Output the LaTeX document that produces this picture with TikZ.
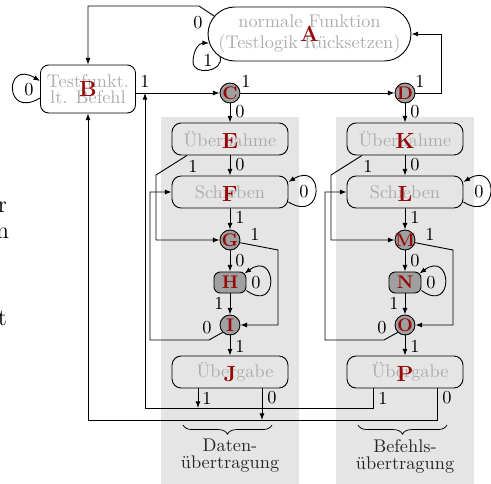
\documentclass[tikz,border=0pt]{standalone}
\usepackage{fontspec}
\usetikzlibrary{arrows.meta,decorations.pathreplacing}
\definecolor{statetext}{RGB}{172,172,172}
\definecolor{letter}{RGB}{150,8,8}
\definecolor{panel}{RGB}{229,229,229}
\definecolor{knot}{RGB}{160,160,160}

\begin{document}
\begin{tikzpicture}[x=0.546pt,y=-0.546pt,
  line width=0.5pt,
  >={Latex[length=3.6pt,width=2.7pt]},
  state/.style={draw, rounded corners=5pt, minimum width=63.3pt, minimum height=17.5pt,
    inner sep=0pt, text=statetext, font=\fontsize{10}{11}\selectfont},
  bigletter/.style={text=letter, font=\large\bfseries, inner sep=0pt},
  smallletter/.style={text=letter, font=\normalsize\bfseries, inner sep=0pt},
  junction/.style={draw, circle, fill=knot, minimum size=10.9pt, inner sep=0pt},
  pausebox/.style={draw, fill=knot, rounded corners=3.5pt, minimum width=17.5pt,
    minimum height=11.5pt, inner sep=0pt},
  bit/.style={font=\fontsize{10}{11}\selectfont, inner sep=0pt},
  groupbrace/.style={decorate, decoration={brace, mirror, amplitude=5pt}, line width=0.4pt},
  grouptext/.style={align=center, font=\fontsize{10}{9.3}\selectfont, text=black!85},
  fragment/.style={anchor=base east, inner sep=0pt, font=\fontsize{13}{15}\selectfont},
  ]
\useasboundingbox (0,0) rectangle (491,484);

% grey backgrounds of the two scan paths
\fill[panel] (161,117) rectangle (299,484);
\fill[panel] (336,117) rectangle (474,484);

% reset and idle states
\node[state, minimum width=110.8pt, minimum height=29.5pt, rounded corners=14.7pt,
  align=center, font=\fontsize{10}{11.5}\selectfont,
  label={[bigletter]center:A}] (A) at (309.5,34) {normale Funktion\\(Testlogik Rücksetzen)};
\node[state, minimum width=51.9pt, minimum height=26.2pt, rounded corners=4.5pt,
  align=center, font=\fontsize{10}{8.5}\selectfont,
  label={[bigletter]center:B}] (B) at (88,89) {Testfunkt.\\lt. Befehl};

% the two scan paths (data and instruction)
\foreach \dx/\s/\ca/\sh/\xa/\pa/\xb/\up in {0/C/E/F/G/H/I/J, 175/D/K/L/M/N/O/P} {
  \begin{scope}[shift={(\dx,0)}]
    \node[junction, label={[smallletter]center:\s}] (\s) at (230,93) {};
    \node[state, label={[bigletter,yshift=-1pt]center:\ca}] (\ca) at (230,139) {Übernahme};
    \node[state, label={[bigletter,yshift=-1pt]center:\sh}] (\sh) at (230,192) {Schieben};
    \node[junction, label={[smallletter]center:\xa}] (\xa) at (230,240) {};
    \node[pausebox, label={[smallletter]center:\pa}] (\pa) at (230,282.5) {};
    \node[junction, label={[smallletter]center:\xb}] (\xb) at (230,325) {};
    \node[state, label={[bigletter,yshift=-1pt]center:\up}] (\up) at (230,372) {\hspace*{5.5pt}Übergabe};

    \draw[->] (\s) -- (\ca);
    \node[bit] (\s-b0) at (240,112) {0};

    \draw[->] (\ca) -- (\sh);
    \node[bit] (\ca-b0) at (240,165) {0};
    \draw[->] ([shift={(-43,0)}]\ca.south) -- (156,175) |- (\xa);
    \node[bit] (\ca-b1) at (193,166) {1};

    \draw[->] ([shift={(0,10)}]\sh.east)
      .. controls ([shift={(36,32)}]\sh.east) and ([shift={(36,-32)}]\sh.east)
      .. ([shift={(0,-10)}]\sh.east);
    \node[bit] (\sh-b0) at (304,192) {0};
    \draw[->] (\sh) -- (\xa);
    \node[bit] (\sh-b1) at (240,217) {1};

    \draw[->] (\xa) -- (\pa);
    \node[bit] (\xa-b0) at (240,261) {0};
    \draw[->] (\xa.-15) -- (278,250) |- (\xb);
    \node[bit] (\xa-b1) at (255,234) {1};

    \draw[->] ([shift={(0,8)}]\pa.east)
      .. controls ([shift={(33,32)}]\pa.east) and ([shift={(31,-33)}]\pa.east)
      .. ([shift={(-2,-9)}]\pa.east);
    \node[bit] (\pa-b0) at (256,283) {0};
    \draw[->] (\pa) -- (\xb);
    \node[bit] (\pa-b1) at (219,303) {1};

    \draw[->] (\xb.225) -- (209,340) -- (150,340) |- (\sh.west);
    \node[bit] (\xb-b0) at (207,328) {0};
    \draw[->] (\xb) -- (\up);
    \node[bit] (\xb-b1) at (240,346) {1};
  \end{scope}
}

% self loops of the reset and idle states
\draw[->] ([shift={(12.5,23)}]A.west)
  .. controls ([shift={(16.5,38)}]A.west) and ([shift={(-14.5,42)}]A.west)
  .. ([shift={(-14.5,28)}]A.west)
  .. controls ([shift={(-14.5,16)}]A.west) and ([shift={(-8.5,9)}]A.west)
  .. ([shift={(1.5,9)}]A.west);
\node[bit] (A-b1) at (208,60) {1};
\draw[->] ([shift={(0,9)}]B.west)
  .. controls ([shift={(-36,31)}]B.west) and ([shift={(-36,-30)}]B.west)
  .. ([shift={(0,-8)}]B.west);
\node[bit] (B-b0) at (29,90) {0};

% transitions between reset, idle and the scan selection
\draw[->] ([shift={(6.5,-18)}]A.west) -- (199,6) -| (B.north);
\node[bit] (A-b0) at (198,23) {0};
\draw[->] (B.east |- C) -- (C);
\node[bit] (B-b1) at (145,81) {1};
\draw[->] (C) -- (D);
\node[bit] (C-b1) at (246,81) {1};
\draw[->] (D) -- ++(36,0) |- (A.east);
\node[bit] (D-b1) at (420,81) {1};

% leaving the update states
\coordinate (j1) at (198,408);
\coordinate (j0) at (262,420);
\coordinate (cjoin) at (145,93);
\draw[->] ([shift={(-32,0)}]J.south) -- (j1);
\node[bit] (J-b1) at (207,398) {1};
\draw[->] ([shift={(32,0)}]J.south) -- (j0);
\node[bit] (J-b0) at (272,398) {0};
\draw[->] ([shift={(-32,0)}]P.south) |- (145,408) -- (cjoin);
\node[bit] (P-b1) at (383,398) {1};
\draw[->] ([shift={(32,0)}]P.south) -- ++(0,32) -| (B.south);
\node[bit] (P-b0) at (447,398) {0};

% group captions
\draw[groupbrace] (183,425) -- (272,425);
\draw[groupbrace] (358,425) -- (447,425);
\node[grouptext] (cap-dr) at (230,456) {Daten-\\übertragung};
\node[grouptext] (cap-ir) at (405,456) {Befehls-\\übertragung};

% letters of the neighbouring text column
\node[fragment] (frag-r) at (7.5,212) {r};
\node[fragment] (frag-n) at (9.5,238) {n};
\node[fragment] (frag-t) at (7.5,325) {t};
\end{tikzpicture}
\end{document}
